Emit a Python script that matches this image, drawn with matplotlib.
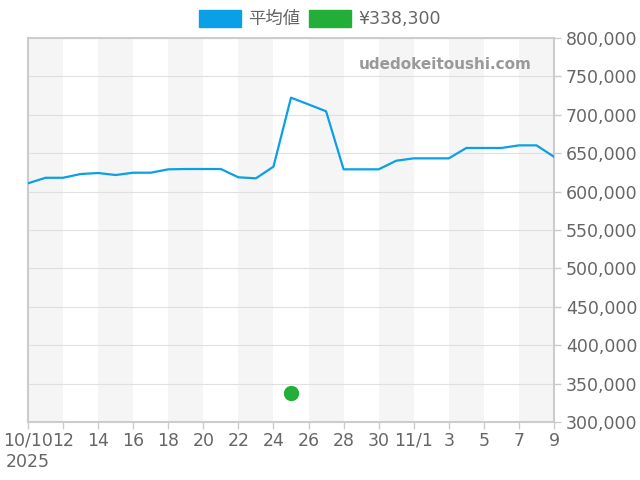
import numpy as np
import pandas as pd
import matplotlib
matplotlib.use("Agg")
import matplotlib.pyplot as plt
import matplotlib.dates as mdates
from matplotlib.patches import Patch

plt.rcParams['font.family'] = ['DejaVu Sans', 'Noto Sans CJK JP']

# daily average price, 2025-10-10 .. 2025-11-09
dates = pd.date_range("2025-10-10", "2025-11-09", freq="D")
avg_price = [610800, 618000, 618000, 622900, 624200, 621600, 624600, 624600,
             629000, 629400, 629400, 629400, 618600, 617300, 632500, 722300,
             713500, 704600, 629000, 629000, 629000, 640200, 643300, 643300,
             643300, 656800, 656800, 656800, 660200, 660200, 645400]
point_date = pd.Timestamp("2025-10-25")
point_price = 338300

tick_dates = pd.date_range("2025-10-10", "2025-10-30", freq="2D").append(
    pd.date_range("2025-11-01", "2025-11-09", freq="2D"))
tick_labels = ["10/10\n2025", "12", "14", "16", "18", "20", "22", "24", "26",
               "28", "30", "11/1", "3", "5", "7", "9"]
y_ticks = np.arange(300000, 800001, 50000)

blue = "#0aa0e6"
green = "#22ae38"
grey = "#666666"

fig = plt.figure(figsize=(6.4, 4.8), dpi=100)
ax = fig.add_axes([28 / 640, 58 / 480, 526 / 640, 384 / 480])

# alternating background bands
for i in range(0, len(tick_dates) - 1, 2):
    ax.axvspan(tick_dates[i], tick_dates[i + 1], color="#f5f5f5", lw=0, zorder=0)

for v in y_ticks:
    ax.axhline(v, color="#e0e0e0", lw=0.8, zorder=1)

ax.plot(dates, avg_price, color=blue, lw=1.6, zorder=3)
ax.plot([point_date], [point_price], "o", color=green, ms=10, mec=green, zorder=4)

ax.set_xlim(dates[0], dates[-1])
ax.set_ylim(300000, 800000)
ax.set_xticks(tick_dates)
ax.set_xticklabels(tick_labels)
ax.set_yticks(y_ticks)
ax.set_yticklabels([f"{v:,}" for v in y_ticks])
ax.yaxis.tick_right()
ax.tick_params(axis="both", colors="#cccccc", labelcolor=grey, labelsize=12.5,
               length=5, width=1)
ax.tick_params(axis="x", pad=2)

for s in ax.spines.values():
    s.set_color("#cccccc")
    s.set_linewidth(1.5)

ax.text(0.958, 0.932, "udedokeitoushi.com", transform=ax.transAxes, ha="right",
        va="center", fontsize=11, fontweight="bold", color="#999999")

handles = [Patch(color=blue, label="平均値"), Patch(color=green, label="¥338,300")]
fig.legend(handles=handles, loc="center", bbox_to_anchor=(320 / 640, 1 - 19 / 480),
           ncol=2, frameon=False, fontsize=12.5, handlelength=2.4,
           handleheight=1.1, handletextpad=0.45, columnspacing=0.5,
           labelcolor=grey)

fig.savefig("out.png", dpi=100)
